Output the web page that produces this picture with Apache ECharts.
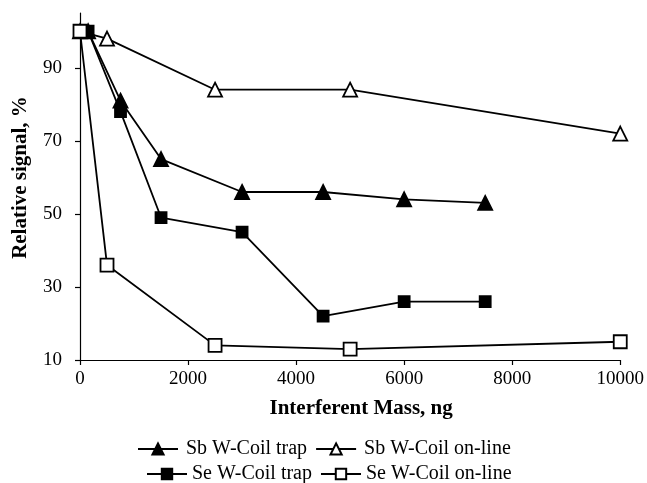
<!DOCTYPE html>
<html>
<head>
<meta charset="utf-8">
<script src="https://cdn.jsdelivr.net/npm/echarts@6/dist/echarts.min.js"></script>
<style>html,body{margin:0;padding:0;background:#fff;}#c{width:647px;height:483px;}</style>
</head>
<body>
<div id="c"></div>
<script>
const xTicks = [0, 2000, 4000, 6000, 8000, 10000];
const yTicks = [10, 30, 50, 70, 90];

const sbTrapMass = [150, 750, 1500, 3000, 4500, 6000, 7500];
const sbTrapSignal = [100, 81, 65, 56, 56, 54, 53];
const sbOnlineMass = [0, 500, 2500, 5000, 10000];
const sbOnlineSignal = [100, 98, 84, 84, 72];
const seTrapMass = [150, 750, 1500, 3000, 4500, 6000, 7500];
const seTrapSignal = [100, 78, 49, 45, 22, 26, 26];
const seOnlineMass = [0, 500, 2500, 5000, 10000];
const seOnlineSignal = [100, 36, 14, 13, 15];

const names = ['Sb W-Coil trap', 'Sb W-Coil on-line', 'Se W-Coil trap', 'Se W-Coil on-line'];

function pairs(xs, ys) { return xs.map((x, i) => [x, ys[i]]); }

const FONT = '"Liberation Serif", "Times New Roman", serif';

function lineSeries(name, data, symbol, filled, size) {
  return {
    name: name,
    type: 'line',
    data: data,
    symbol: symbol,
    symbolSize: size,
    showAllSymbol: true,
    lineStyle: { color: '#000', width: 1.8 },
    itemStyle: { color: filled ? '#000' : '#fff', borderColor: '#000', borderWidth: 1.8 },
    emphasis: { disabled: true },
    animation: false
  };
}

const chart = echarts.init(document.getElementById('c'), null, { renderer: 'canvas' });
chart.setOption({
  backgroundColor: '#fff',
  animation: false,
  textStyle: { fontFamily: FONT },
  grid: { left: 80, right: 24, top: 13, bottom: 123, containLabel: false },
  xAxis: {
    type: 'value',
    min: xTicks[0],
    max: xTicks[xTicks.length - 1],
    interval: 2000,
    name: 'Interferent Mass, ng',
    nameLocation: 'middle',
    nameGap: 38,
    nameTextStyle: { fontFamily: FONT, fontWeight: 'bold', fontSize: 21, color: '#000', padding: [0, 0, 0, 22] },
    axisLine: { show: true, onZero: false, lineStyle: { color: '#000', width: 1.2 } },
    axisTick: { show: true, length: 5, lineStyle: { color: '#000', width: 1.2 } },
    axisLabel: { fontFamily: FONT, fontSize: 19, color: '#000', margin: 10, formatter: v => String(v) },
    splitLine: { show: false }
  },
  yAxis: {
    type: 'value',
    min: 10,
    max: 105,
    name: 'Relative signal, %',
    nameLocation: 'middle',
    nameGap: 49,
    nameTextStyle: { fontFamily: FONT, fontWeight: 'bold', fontSize: 21, color: '#000', padding: [0, 0, 0, 18] },
    axisLine: { show: true, onZero: false, lineStyle: { color: '#000', width: 1.2 } },
    axisTick: { show: true, length: 5, customValues: yTicks, lineStyle: { color: '#000', width: 1.2 } },
    axisLabel: { fontFamily: FONT, fontSize: 19, color: '#000', margin: 18, customValues: yTicks },
    splitLine: { show: false }
  },
  legend: [
    {
      data: [names[0], names[1]],
      left: 137, top: 439, padding: 0,
      itemWidth: 40, itemHeight: 14, itemGap: 8,
      textStyle: { fontFamily: FONT, fontSize: 20, color: '#000', padding: [0, 0, 0, 3] },
      selectedMode: false
    },
    {
      data: [names[2], names[3]],
      left: 146, top: 464, padding: 0,
      itemWidth: 40, itemHeight: 13, itemGap: 8,
      textStyle: { fontFamily: FONT, fontSize: 20, color: '#000', padding: [0, 0, 0, 0] },
      selectedMode: false
    }
  ],
  series: [
    lineSeries(names[0], pairs(sbTrapMass, sbTrapSignal), 'triangle', true, 14),
    lineSeries(names[1], pairs(sbOnlineMass, sbOnlineSignal), 'triangle', false, 14),
    lineSeries(names[2], pairs(seTrapMass, seTrapSignal), 'rect', true, 11),
    lineSeries(names[3], pairs(seOnlineMass, seOnlineSignal), 'rect', false, 13)
  ]
});
</script>
</body>
</html>
